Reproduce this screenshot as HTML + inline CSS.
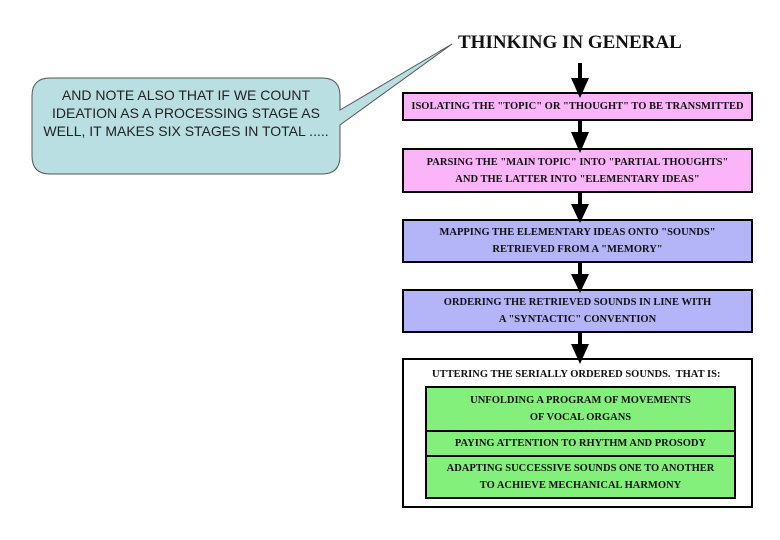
<!DOCTYPE html>
<html><head><style>
body{margin:0;background:#fff;width:780px;height:540px;overflow:hidden;position:relative;font-family:"Liberation Serif",serif;}
.b{position:absolute;border:2px solid #000;box-sizing:border-box;font-weight:bold;font-size:10.5px;text-align:center;display:flex;align-items:center;justify-content:center;line-height:17px;color:#111}
.p{background:#fab4f8}.u{background:#b4b4f8}.g{background:#82f07a}
</style></head><body>
<svg width="780" height="540" style="position:absolute;left:0;top:0">
<path d="M50,78 H322 Q340,78 340,96 L340,110 L452,44 L340,125 L340,156 Q340,174 322,174 H50 Q32,174 32,156 V96 Q32,78 50,78 Z" fill="#b9dfe3" stroke="#555" stroke-width="1"/>
</svg>
<div style="position:absolute;left:36px;top:86px;width:300px;text-align:center;font-family:'Liberation Sans',sans-serif;font-size:14px;line-height:18px;color:#222">AND NOTE ALSO THAT IF WE COUNT IDEATION AS A PROCESSING STAGE AS WELL, IT MAKES SIX STAGES IN TOTAL .....</div>
<div style="position:absolute;left:458px;top:32px;font-weight:bold;font-size:19px;color:#111">THINKING IN GENERAL</div>
<div class="b p" style="left:402px;top:92px;width:351px;height:29px">ISOLATING THE "TOPIC" OR "THOUGHT" TO BE TRANSMITTED</div>
<div class="b p" style="left:402px;top:148px;width:351px;height:45px">PARSING THE "MAIN TOPIC" INTO "PARTIAL THOUGHTS"<br>AND THE LATTER INTO "ELEMENTARY IDEAS"</div>
<div class="b u" style="left:402px;top:219px;width:351px;height:44px">MAPPING THE ELEMENTARY IDEAS ONTO "SOUNDS"<br>RETRIEVED FROM A "MEMORY"</div>
<div class="b u" style="left:402px;top:289px;width:351px;height:44px">ORDERING THE RETRIEVED SOUNDS IN LINE WITH<br>A "SYNTACTIC" CONVENTION</div>
<div class="b" style="left:402px;top:358px;width:351px;height:150px;background:#fff;align-items:flex-start;justify-content:flex-start;padding:6px 0 0 28px">UTTERING THE SERIALLY ORDERED SOUNDS.&nbsp; THAT IS:</div>
<div class="b g" style="left:425px;top:386px;width:311px;height:46px">UNFOLDING A PROGRAM OF MOVEMENTS<br>OF VOCAL ORGANS</div>
<div class="b g" style="left:425px;top:430px;width:311px;height:27px">PAYING ATTENTION TO RHYTHM AND PROSODY</div>
<div class="b g" style="left:425px;top:455px;width:311px;height:44px;white-space:nowrap">ADAPTING SUCCESSIVE SOUNDS ONE TO ANOTHER<br>TO ACHIEVE MECHANICAL HARMONY</div>
<svg width="780" height="540" style="position:absolute;left:0;top:0">
<g fill="#000" stroke="#000">
<rect x="578" y="63" width="4" height="16" stroke="none"/><polygon points="571,78 589,78 580,98" stroke="none"/>
<rect x="578" y="121" width="4" height="12" stroke="none"/><polygon points="571,132 589,132 580,153" stroke="none"/>
<rect x="578" y="193" width="4" height="12" stroke="none"/><polygon points="571,204 589,204 580,223" stroke="none"/>
<rect x="578" y="263" width="4" height="12" stroke="none"/><polygon points="571,274 589,274 580,293" stroke="none"/>
<rect x="578" y="333" width="4" height="12" stroke="none"/><polygon points="571,344 589,344 580,364" stroke="none"/>
</g></svg>
</body></html>
